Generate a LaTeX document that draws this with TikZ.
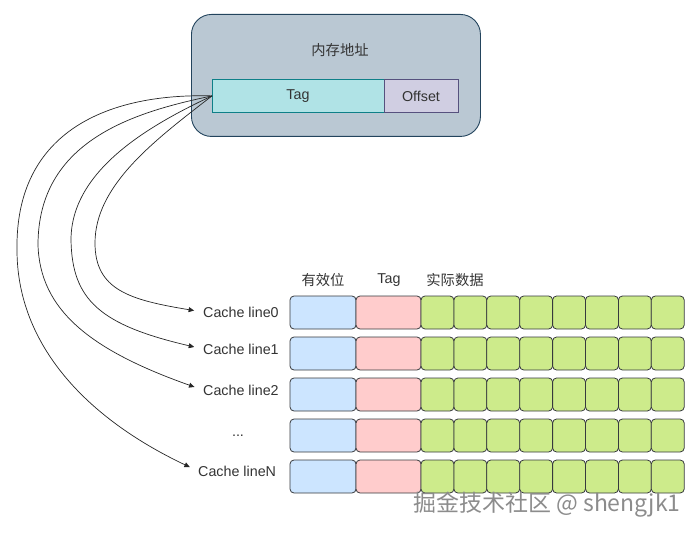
\documentclass[tikz,border=0pt]{standalone}
\usepackage{fontspec}
\setmainfont{Liberation Sans}
\newfontfamily\cjk{Noto Sans CJK SC}
\usetikzlibrary{arrows.meta}
\definecolor{outerfill}{HTML}{BAC8D3}
\definecolor{outerline}{HTML}{23445D}
\definecolor{tagfill}{HTML}{B0E3E6}
\definecolor{tagline}{HTML}{0E8088}
\definecolor{offfill}{HTML}{D0CEE2}
\definecolor{offline}{HTML}{56517E}
\definecolor{bluefill}{HTML}{CCE5FF}
\definecolor{pinkfill}{HTML}{FFCCCC}
\definecolor{greenfill}{HTML}{CDEB8B}
\definecolor{cellline}{HTML}{36393D}
\definecolor{txt}{HTML}{333333}
\tikzset{
  cell/.style={draw=cellline, line width=0.8pt, rounded corners=4pt, minimum height=33pt, inner sep=0pt, outer sep=0pt, anchor=north west},
  lbl/.style={font=\fontsize{14.3}{16}\selectfont, text=txt, inner sep=0pt},
  cjklbl/.style={font=\cjk\fontsize{14.3}{16}\selectfont, text=txt, inner sep=0pt},
  conn/.style={draw=black!85, line width=0.7pt, -{Triangle[length=5.5pt,width=5pt]}, shorten >=9pt},
}
\begin{document}
\begin{tikzpicture}[x=1pt,y=-1pt]
\useasboundingbox (0,0) rectangle (698,537);
% address box
\node[draw=outerline, fill=outerfill, line width=0.9pt, rounded corners=20pt, minimum width=289pt, minimum height=122pt, anchor=north west, inner sep=0pt] (addr) at (191,14) {};
\node[cjklbl] (addrtitle) at (340,50) {内存地址};
\node[draw=tagline, fill=tagfill, line width=0.8pt, minimum width=172pt, minimum height=33pt, anchor=north west, inner sep=0pt] (tag) at (212,79) {};
\node[lbl] (tagtxt) at (298,96) {Tag};
\node[draw=offline, fill=offfill, line width=0.8pt, minimum width=74pt, minimum height=33pt, anchor=north west, inner sep=0pt] (off) at (384,79) {};
\node[lbl] (offtxt) at (421,96) {Offset};
% headers
\node[cjklbl] (h1) at (323,280) {有效位};
\node[lbl] (h2) at (389,280) {Tag};
\node[cjklbl] (h3) at (455,280) {实际数据};
% rows
\foreach \r/\y in {0/296,1/337,2/378,3/419,4/460}{
  \node[cell, fill=bluefill, minimum width=66pt] (v\r) at (290,\y) {};
  \node[cell, fill=pinkfill, minimum width=65pt] (t\r) at (356,\y) {};
  \foreach \c in {0,...,7}{
    \node[cell, fill=greenfill, minimum width=32.9pt] (d\r\c) at ({421+\c*32.9},\y) {};
  }
}
% labels
\node[lbl, anchor=west] (l0) at (203,312) {Cache line0};
\node[lbl, anchor=west] (l1) at (203,349) {Cache line1};
\node[lbl, anchor=west] (l2) at (203,390) {Cache line2};
\node[lbl] (ldots) at (238,436) {...};
\node[lbl, anchor=west] (lN) at (198,471) {Cache lineN};
% bend points of the connectors
\coordinate (b0) at (95,243);
\coordinate (b1) at (71,240);
\coordinate (b2) at (38,245);
\coordinate (b3) at (17,250);
% connectors
\draw[conn] (tag.west) .. controls (155,140) and (95,185) .. (b0)
  .. controls (95,290) and (130,300) .. (l0.west);
\draw[conn] (tag.west) .. controls (150,125) and (71,170) .. (b1)
  .. controls (72,300) and (100,325) .. (l1.west);
\draw[conn] (tag.west) .. controls (135,112) and (38,140) .. (b2)
  .. controls (40,310) and (90,350) .. (l2.west);
\draw[conn] (tag.west) .. controls (110,93) and (15,130) .. (b3)
  .. controls (17,340) and (80,415) .. (lN.west);
% watermark
\node[font=\cjk\fontsize{23}{26}\selectfont, text=black!45, inner sep=0pt, anchor=west] (wm) at (413,505) {掘金技术社区 @ shengjk1};
\end{tikzpicture}
\end{document}
